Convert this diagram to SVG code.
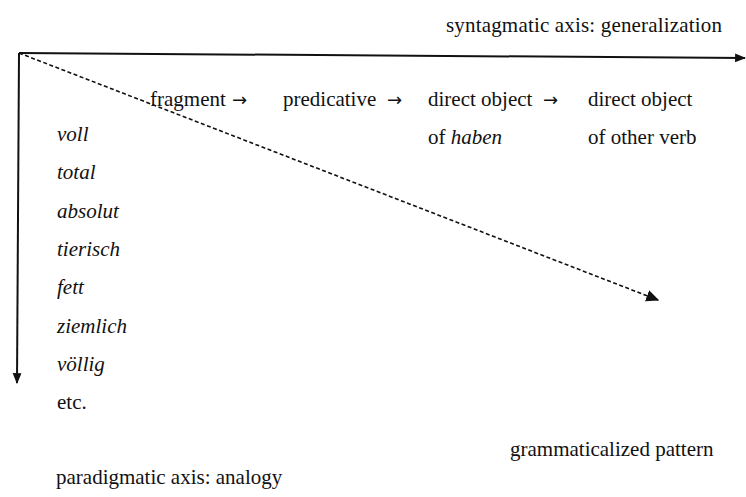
<svg xmlns="http://www.w3.org/2000/svg" width="746" height="497" viewBox="0 0 746 497">
<style>
text{font-family:"Liberation Serif","Times New Roman",serif;font-size:21px;fill:#111}
.it{font-style:italic}
.arr{font-family:"DejaVu Sans",sans-serif;font-size:18px}
.ax{stroke:#111;stroke-width:2;fill:none}
.dash{stroke:#111;stroke-width:1.6;fill:none;stroke-dasharray:4,2.5}
</style>
<defs>
<marker id="ah" viewBox="0 0 10 10" refX="9" refY="5" markerWidth="11" markerHeight="11" orient="auto" markerUnits="userSpaceOnUse">
<path d="M0,1 L10,5 L0,9 z" fill="#111"/>
</marker>
<marker id="ahd" viewBox="0 0 10 10" refX="9" refY="5" markerWidth="13" markerHeight="13" orient="auto" markerUnits="userSpaceOnUse">
<path d="M0,0.5 L10,5 L0,9.5 z" fill="#111"/>
</marker>
</defs>
<g id="connectors">
<line class="ax" x1="19" y1="53" x2="745" y2="58" marker-end="url(#ah)"/>
<line class="ax" x1="19" y1="53" x2="17" y2="383" marker-end="url(#ah)"/>
<line class="dash" x1="19" y1="53" x2="658" y2="300" marker-end="url(#ahd)"/>
</g>
<g id="syntagmatic"><text x="446" y="32" textLength="276" lengthAdjust="spacing">syntagmatic axis: generalization</text></g>
<g id="fragment"><text x="150" y="106">fragment</text><text class="arr" x="232" y="106">→</text></g>
<g id="predicative"><text x="283" y="106">predicative</text><text class="arr" x="387" y="106">→</text></g>
<g id="direct-object-haben"><text x="428" y="106">direct object</text><text class="arr" x="543" y="106">→</text><text x="428" y="144">of <tspan class="it">haben</tspan></text></g>
<g id="direct-object-other"><text x="588" y="106">direct object</text><text x="588" y="144">of other verb</text></g>
<g id="paradigm-list">
<text class="it" x="57" y="141">voll</text>
<text class="it" x="57" y="179">total</text>
<text class="it" x="57" y="218">absolut</text>
<text class="it" x="57" y="256">tierisch</text>
<text class="it" x="57" y="294">fett</text>
<text class="it" x="57" y="333">ziemlich</text>
<text class="it" x="57" y="371">völlig</text>
<text x="57" y="409">etc.</text>
</g>
<g id="grammaticalized"><text x="510" y="456">grammaticalized pattern</text></g>
<g id="paradigmatic"><text x="56" y="484">paradigmatic axis: analogy</text></g>
</svg>
